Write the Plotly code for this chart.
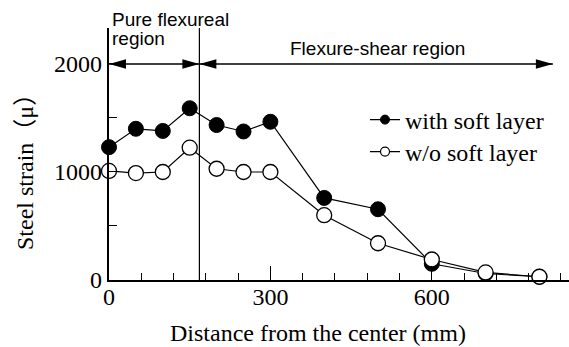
import plotly.graph_objects as go

# Measurement positions (mm from the center)
distance = [0, 50, 100, 150, 200, 250, 300, 400, 500, 600, 700, 800]
# Steel strain (micro) for each specimen
strain_with_soft = [1230, 1400, 1380, 1590, 1435, 1375, 1465, 760, 655, 150, 60, 30]
strain_without_soft = [1010, 990, 1000, 1225, 1030, 1000, 1000, 600, 340, 190, 70, 30]

# Region boundary and extents of the region arrows
boundary_x = 168
arrow_level = 2000
arrow_end_x = 825

x_ticks_major = [0, 300, 600]
y_ticks_major = [0, 1000, 2000]

SERIF = "Liberation Serif, Times New Roman, Noto Sans CJK JP, serif"
SANS = "Liberation Sans, Arial, sans-serif"

# plot area in pixels
L_PX, R_PX, T_PX, B_PX = 109, 569, 28, 280
PW, PH = R_PX - L_PX, B_PX - T_PX


def px_x(px):
    return (px - L_PX) / PW


def px_y(py):
    return (B_PX - py) / PH


fig = go.Figure()

common_line = dict(color="black", width=1.2)

fig.add_trace(go.Scatter(
    x=distance, y=strain_with_soft, mode="lines+markers",
    line=common_line,
    marker=dict(symbol="circle", size=15, color="black", line=dict(color="black", width=1)),
    showlegend=False, cliponaxis=False,
))
fig.add_trace(go.Scatter(
    x=distance, y=strain_without_soft, mode="lines+markers",
    line=common_line,
    marker=dict(symbol="circle", size=15, color="white", line=dict(color="black", width=1.3)),
    showlegend=False, cliponaxis=False,
))
# Legend entries with smaller sample markers, one legend box per row
fig.add_trace(go.Scatter(
    x=[None], y=[None], mode="lines+markers", name="with soft layer", legend="legend",
    line=common_line,
    marker=dict(symbol="circle", size=9, color="black", line=dict(color="black", width=1)),
))
fig.add_trace(go.Scatter(
    x=[None], y=[None], mode="lines+markers", name="w/o soft layer", legend="legend2",
    line=common_line,
    marker=dict(symbol="circle", size=9, color="white", line=dict(color="black", width=1.2)),
))

shapes = []
# Region boundary
shapes.append(dict(type="line", xref="x", yref="paper", x0=boundary_x, x1=boundary_x,
                   y0=0, y1=1, line=dict(color="black", width=1.2), layer="below"))
# Arrow shafts
shapes.append(dict(type="line", xref="x", yref="y", x0=0, x1=boundary_x,
                   y0=arrow_level, y1=arrow_level, line=dict(color="black", width=1.4)))
shapes.append(dict(type="line", xref="x", yref="y", x0=boundary_x, x1=arrow_end_x,
                   y0=arrow_level, y1=arrow_level, line=dict(color="black", width=1.4)))


def head(x_anchor, direction):
    # filled triangular arrowhead, tip at the anchor, sized in pixels
    L, H = 17, 4.7
    d = -direction
    path = f"M0,0 L{d*L},{H} L{d*L},{-H} Z"
    return dict(type="path", xref="x", yref="y", xsizemode="pixel", ysizemode="pixel",
                xanchor=x_anchor, yanchor=arrow_level, path=path,
                fillcolor="black", line=dict(color="black", width=0))


shapes.append(head(0, -1))
shapes.append(head(boundary_x, 1))
shapes.append(head(boundary_x, -1))
shapes.append(head(arrow_end_x, 1))

sans_font = dict(family=SANS, size=19, color="black")
serif_font = dict(family=SERIF, size=24, color="black")
annotations = [
    dict(text="Pure flexureal", xref="paper", yref="paper", x=px_x(110), y=px_y(20),
         xanchor="left", yanchor="middle", showarrow=False, font=sans_font),
    dict(text="region", xref="paper", yref="paper", x=px_x(110), y=px_y(39),
         xanchor="left", yanchor="middle", showarrow=False, font=sans_font),
    dict(text="Flexure-shear region", xref="paper", yref="paper", x=px_x(288), y=px_y(48),
         xanchor="left", yanchor="middle", showarrow=False, font=sans_font),
    # axis titles
    dict(text="Distance from the center (mm)", xref="paper", yref="paper", x=px_x(318), y=px_y(333),
         xanchor="center", yanchor="middle", showarrow=False, font=serif_font),
    dict(text="Steel strain（μ）", xref="paper", yref="paper", x=px_x(25), y=px_y(166),
         xanchor="center", yanchor="middle", showarrow=False, textangle=-90, font=serif_font),
]

legend_common = dict(xanchor="left", yanchor="middle", bgcolor="rgba(0,0,0,0)",
                     font=serif_font, itemwidth=30)

fig.update_layout(
    width=569, height=347,
    margin=dict(l=L_PX, r=569 - R_PX, t=T_PX, b=347 - B_PX),
    paper_bgcolor="white", plot_bgcolor="white",
    font=serif_font,
    shapes=shapes, annotations=annotations,
    legend=dict(x=px_x(365), y=px_y(120), **legend_common),
    legend2=dict(x=px_x(365), y=px_y(152), **legend_common),
    xaxis=dict(
        range=[0, 855], tickmode="array", tickvals=x_ticks_major,
        ticks="inside", ticklen=14, tickwidth=1.2, tickcolor="black",
        minor=dict(dtick=60, tick0=0, ticks="inside", ticklen=7, tickwidth=1.2, tickcolor="black"),
        showline=True, linewidth=2.2, linecolor="black", showgrid=False, zeroline=False,
        tickfont=dict(size=24), ticklabelstandoff=-6,
    ),
    yaxis=dict(
        range=[0, 2333], tickmode="array", tickvals=y_ticks_major,
        ticks="inside", ticklen=8, tickwidth=1.2, tickcolor="black",
        minor=dict(dtick=500, tick0=0, ticks="inside", ticklen=8, tickwidth=1.2, tickcolor="black"),
        showline=True, linewidth=2.2, linecolor="black", showgrid=False, zeroline=False,
        tickfont=dict(size=24),
    ),
)

fig.write_html("out.html")
